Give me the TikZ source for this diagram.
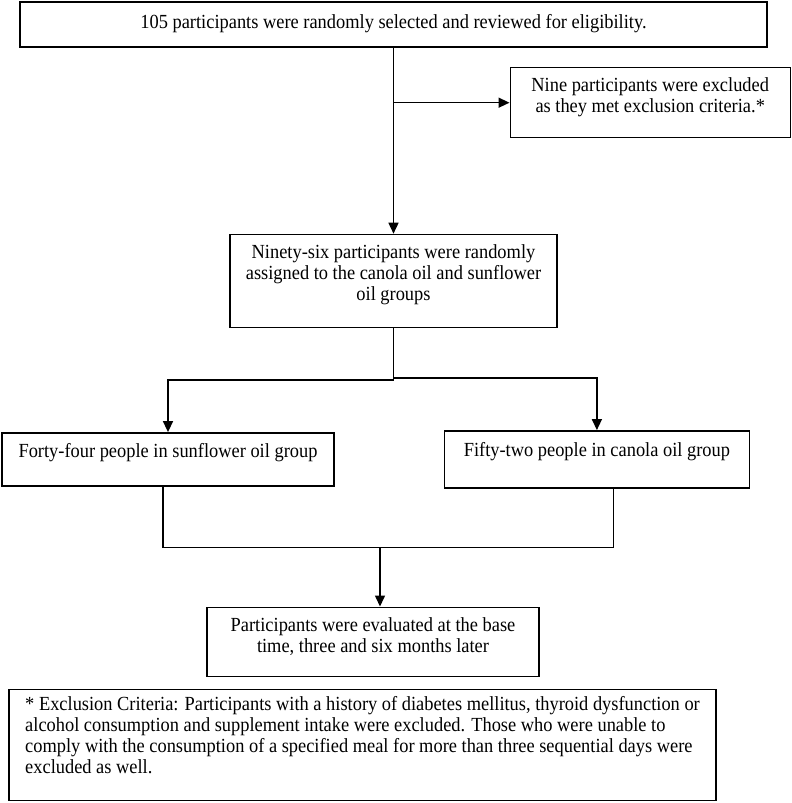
\documentclass[tikz,border=0pt]{standalone}
\usepackage{fontspec}
\setmainfont{Liberation Serif}[FakeStretch=0.92]
\usepackage{tikz}
\usetikzlibrary{positioning,arrows.meta}
\tikzstyle{box} = [rectangle, draw, line width=1.4pt, align=center, inner sep=0pt, font=\fontsize{20}{21}\selectfont]
\tikzstyle{notebox} = [box, align=left]
\tikzstyle{arrow} = [-{Triangle[length=11pt,width=10pt]}, line width=1.5pt]
\tikzstyle{link} = [line width=1.5pt]

\begin{document}
\begin{tikzpicture}[x=1pt, y=1pt]
    \useasboundingbox (0,0) rectangle (792,-803);

    % Screening
    \node[box, minimum width=747pt, minimum height=45pt, text depth=7pt] (screen) at (393.5,-24.5) {105 participants were randomly selected and reviewed for eligibility.};

    % Excluded
    \coordinate[below=55pt of screen.south] (branch);
    \node[box, right=116pt of branch, minimum width=280pt, minimum height=70pt, text depth=16pt] (excluded) {Nine participants were excluded\\as they met exclusion criteria.*};

    % Randomisation
    \node[box, below=186pt of screen, minimum width=327pt, minimum height=93pt, text depth=16pt] (assigned) {Ninety-six participants were randomly\\assigned to the canola oil and sunflower\\oil groups};

    % Groups
    \node[box, below=104pt of assigned, xshift=-225.5pt, minimum width=332pt, minimum height=53pt, text depth=17pt] (sunflower) {Forty-four people in sunflower oil group};
    \node[box, right=109pt of sunflower, minimum width=305pt, minimum height=57pt, text depth=19pt] (canola) {Fifty-two people in canola oil group};

    % Follow-up
    \node[box, below=120pt of sunflower, xshift=205pt, minimum width=332pt, minimum height=69pt, text depth=14pt] (evaluated) {Participants were evaluated at the base\\time, three and six months later};

    % Footnote
    \node[notebox, below=12pt of evaluated, xshift=-10.5pt, minimum width=707pt, minimum height=111pt, text depth=20pt] (note) {* Exclusion Criteria: Participants with a history of diabetes mellitus, thyroid dysfunction or\\alcohol consumption and supplement intake were excluded. Those who were unable to\\comply with the consumption of a specified meal for more than three sequential days were\\excluded as well.};

    % Arrows
    \draw[arrow] (screen.south) -- (assigned.north);
    \draw[arrow] (branch) -- (excluded.west);
    \draw[arrow] (assigned.south) |- ([yshift=52pt]sunflower.north) -- (sunflower.north);
    \draw[arrow] (assigned.south) |- ([yshift=52pt]canola.north) -- (canola.north);
    \coordinate (merge) at ([xshift=7pt,yshift=59pt]evaluated.north);
    \draw[link] ([xshift=-5pt]sunflower.south) |- (merge) -| ([xshift=16.5pt]canola.south);
    \draw[arrow] (merge) -- (merge |- evaluated.north);
\end{tikzpicture}
\end{document}
